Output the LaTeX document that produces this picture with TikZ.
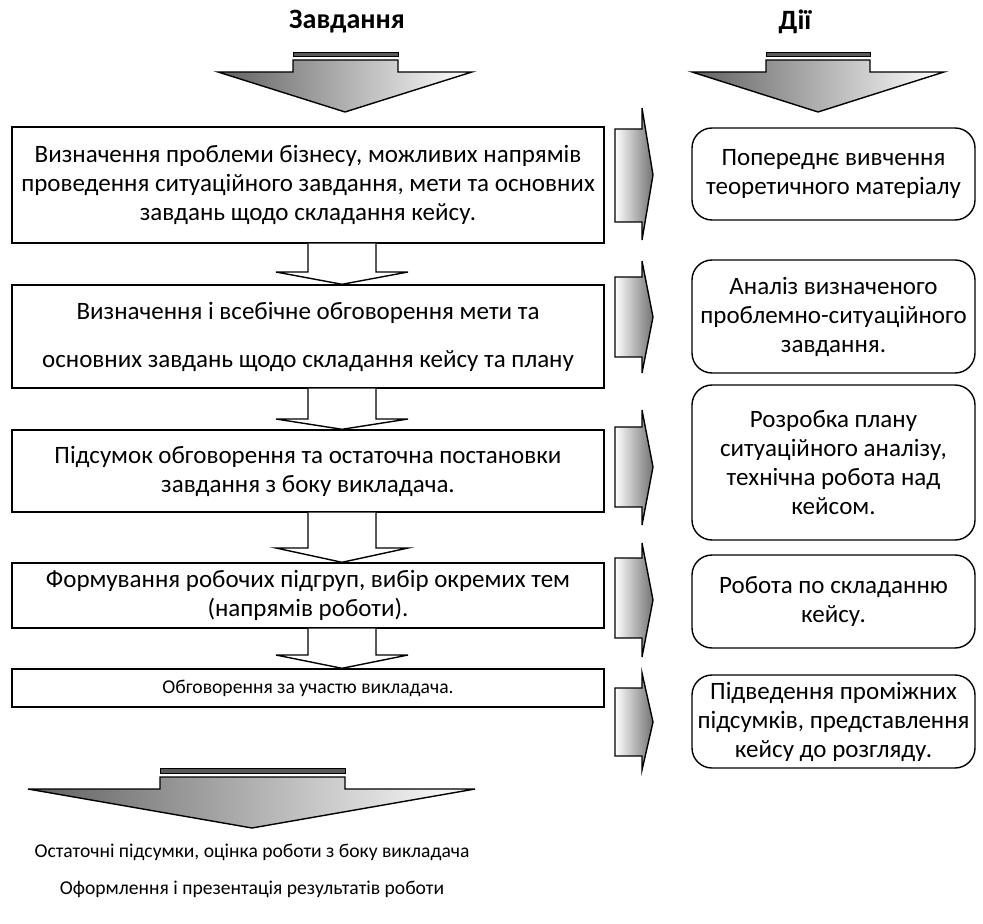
\documentclass[tikz,border=0pt]{standalone}
\usepackage{fontspec}
\setmainfont{Carlito}
\usetikzlibrary{calc}
\newcommand\boxfont{\fontsize{12.5}{14.5}\selectfont}
\newcommand\smallboxfont{\fontsize{9.8}{12}\selectfont}
\begin{document}
\begin{tikzpicture}[x=0.5pt,y=-0.5pt,
  lbox/.style={draw, line width=0.7pt, minimum width=296pt, align=center, inner sep=0pt, font=\boxfont},
  rbox/.style={draw, line width=0.7pt, rounded corners=10pt, minimum width=141.5pt, align=center, inner sep=0pt, font=\boxfont},
  hollow/.style={draw, fill=white, line width=0.7pt, line join=miter},
  rarrow/.style={draw, line width=0.7pt, left color=white, right color=black!55},
  darrow/.style={draw, line width=0.7pt, left color=black!62, right color=white},
  stripe/.style={draw, line width=0.5pt, fill=black!65},
  ttl/.style={font=\bfseries\fontsize{14}{17}\selectfont, inner sep=0pt},
  plain/.style={font=\smallboxfont, inner sep=0pt}]
\useasboundingbox (0,0) rectangle (983,924);

% titles
\node[ttl] (t1) at (347,22) {Завдання};
\node[ttl] (t2) at (795,22) {Дії};

% top big arrows
\draw[stripe] (293,53) rectangle (398,57);
\draw[darrow] (293,60) -- (398,60) -- (398,72) -- (472,72) -- (345,112) -- (218,72) -- (293,72) -- cycle;
\draw[stripe] (766,53) rectangle (870,57);
\draw[darrow] (766,60) -- (870,60) -- (870,72) -- (944,72) -- (818,112) -- (692,72) -- (766,72) -- cycle;

% left boxes
\node[lbox, minimum height=58pt] (b1) at (308,185) {Визначення проблеми бізнесу, можливих напрямів\\проведення ситуаційного завдання, мети та основних\\завдань щодо складання кейсу.};
\node[lbox, minimum height=51.5pt] (b2) at (308,336.5) {Визначення і всебічне обговорення мети та\\[9.5pt]основних завдань щодо складання кейсу та плану};
\node[lbox, minimum height=41pt] (b3) at (308,471) {Підсумок обговорення та остаточна постановки\\завдання з боку викладача.};
\node[lbox, minimum height=32.5pt] (b4) at (308,595.5) {Формування робочих підгруп, вибір окремих тем\\(напрямів роботи).};
\node[lbox, minimum height=19pt, font=\smallboxfont] (b5) at (308,688) {Обговорення за участю викладача.};

% hollow arrows between left boxes
\draw[hollow] (308,0 |- b1.south) -- (308,272) -- (276,272) -- (342,0 |- b2.north) -- (408,272) -- (376,272) -- (376,0 |- b1.south);
\draw[hollow] (308,0 |- b2.south) -- (308,419) -- (276,419) -- (342,0 |- b3.north) -- (408,419) -- (376,419) -- (376,0 |- b2.south);
\draw[hollow] (308,0 |- b3.south) -- (308,548) -- (276,548) -- (342,0 |- b4.north) -- (408,548) -- (376,548) -- (376,0 |- b3.south);
\draw[hollow] (308,0 |- b4.south) -- (308,655) -- (276,655) -- (342,0 |- b5.north) -- (408,655) -- (376,655) -- (376,0 |- b4.south);

% right boxes
\node[rbox, minimum height=46pt] (r1) at (833.5,174) {Попереднє вивчення\\теоретичного матеріалу};
\node[rbox, minimum height=56.5pt] (r2) at (833.5,316.5) {Аналіз визначеного\\проблемно-ситуаційного\\завдання.};
\node[rbox, minimum height=77.5pt] (r3) at (833.5,462.5) {Розробка плану\\ситуаційного аналізу,\\технічна робота над\\кейсом.};
\node[rbox, minimum height=46.5pt] (r4) at (833.5,601.5) {Робота по складанню\\кейсу.};
\node[rbox, minimum height=46.5pt] (r5) at (833.5,721.5) {Підведення проміжних\\підсумків, представлення\\кейсу до розгляду.};

% right block arrows
\draw[rarrow] (615,129) -- (642,129) -- (642,108) -- (653,175) -- (642,240) -- (642,222) -- (615,222) -- cycle;
\draw[rarrow] (615,277) -- (642,277) -- (642,261) -- (653,317) -- (642,373) -- (642,357) -- (615,357) -- cycle;
\draw[rarrow] (615,427) -- (642,427) -- (642,410) -- (653,467) -- (642,525) -- (642,507) -- (615,507) -- cycle;
\draw[rarrow] (615,558) -- (642,558) -- (642,543) -- (653,600) -- (642,657) -- (642,638) -- (615,638) -- cycle;
\draw[rarrow] (615,688) -- (642,688) -- (642,673) -- (653,722) -- (642,770) -- (642,756) -- (615,756) -- cycle;

% bottom big arrow
\draw[stripe] (160,768) rectangle (345,773);
\draw[darrow] (160,777) -- (345,777) -- (345,789) -- (475,789) -- (252,828) -- (28,789) -- (160,789) -- cycle;

% final texts
\node[plain] (f1) at (252,852) {Остаточні підсумки, оцінка роботи з боку викладача};
\node[plain] (f2) at (252,889) {Оформлення і презентація результатів роботи};
\end{tikzpicture}
\end{document}
